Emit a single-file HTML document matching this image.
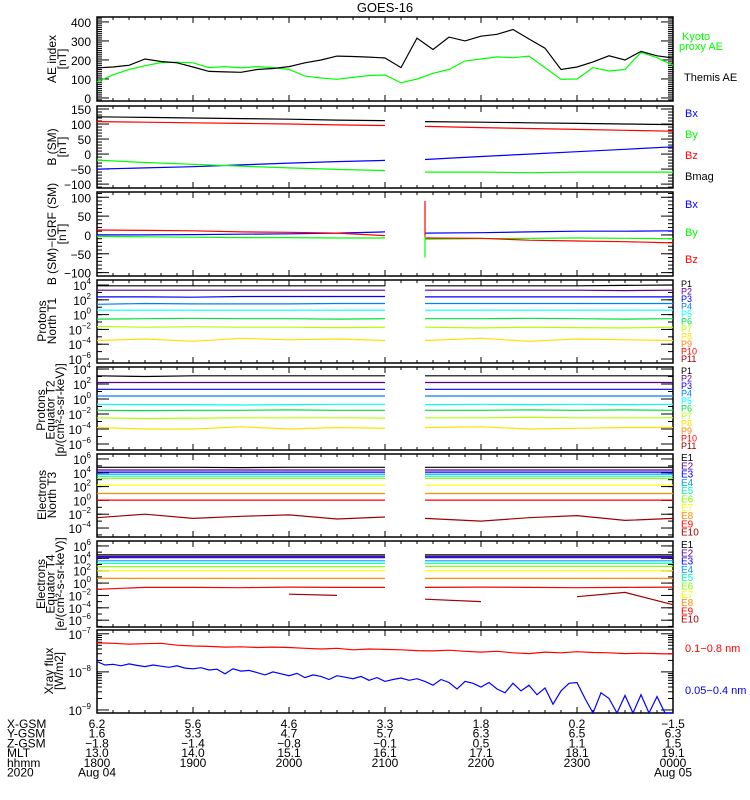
<!DOCTYPE html>
<html><head><meta charset="utf-8"><title>GOES-16</title>
<style>
html,body{margin:0;padding:0;background:#fff;}
svg{display:block;font-family:"Liberation Sans",sans-serif;}
</style></head>
<body>
<svg id="chart" width="750" height="800" viewBox="0 0 750 800" xmlns="http://www.w3.org/2000/svg">
<text x="385" y="12" text-anchor="middle" font-size="13">GOES-16</text>
</svg>
<script>
// ---------- data ----------
const aeTimes = [0,10,20,30,40,50,60,70,80,90,100,110,120,130,140,150,160,170,180,190,200,210,220,230,240,250,260,270,280,290,300,310,320,330,340,350,360];
const themisAE = [158,163,172,205,192,185,163,140,137,135,150,155,165,185,200,220,218,215,210,160,315,255,320,300,325,335,360,310,262,150,163,190,222,200,245,222,210];
const kyotoAE = [84,122,150,170,186,188,185,160,165,158,165,160,150,115,105,98,108,118,121,80,100,130,150,195,205,216,212,220,160,98,100,160,142,150,240,212,172];

const tB = [0,30,60,90,120,150,180,195,205,240,270,300,330,360];
const bmag = [124,122,120,118,116,113,111,null,108,106,104,102,100,98];
const bz = [108,106,104,102,100,97,95,null,92,88,85,82,79,76];
const bx = [-50,-46,-42,-36,-30,-25,-21,null,-18,-8,0,8,16,24];
const by = [-20,-28,-34,-40,-46,-51,-55,null,-60,-60,-62,-60,-60,-60];

const dBz = [13,12,11,8,7,5,-2,null,-8,-9,-14,-16,-18,-21];
const dBx = [0,0,1,2,3,5,8,null,5,6,8,10,10,11];
const dBy = [-4,-5,-6,-7,-7,-8,-8,null,-11,-10,-9,-8,-9,-10];
const spikeTime = 205;
const spikeRed = [90,-5];
const spikeGreen = [-60,-5];

const p1N = [3.9,3.9,3.9,3.9,3.9,3.9,3.9,null,3.9,3.9,3.9,3.9,3.95,4.0];
const p2N = [3.3,3.3,3.3,3.3,3.3,3.3,3.3,null,3.3,3.3,3.3,3.3,3.25,3.3];
const p3N = [2.4,2.4,2.35,2.45,2.45,2.45,2.45,null,2.4,2.4,2.4,2.4,2.4,2.4];
const p4N = [1.4,1.5,1.45,1.45,1.45,1.5,1.5,null,1.5,1.5,1.5,1.5,1.5,1.5];
const p5N = [0.6,0.6,0.6,0.6,0.6,0.6,0.6,null,0.6,0.6,0.6,0.6,0.6,0.6];
const p6N = [-0.6,-0.55,-0.5,-0.55,-0.55,-0.6,-0.55,null,-0.55,-0.55,-0.5,-0.55,-0.6,-0.55];
const p7N = [-1.6,-1.7,-1.65,-1.7,-1.7,-1.75,-1.7,null,-1.7,-1.8,-1.7,-1.75,-1.8,-1.7];
const p8N = [-3.5,-3.3,-3.6,-3.2,-3.4,-3.3,-3.5,null,-3.5,-3.2,-3.6,-3.3,-3.4,-3.5];

const p1E = [3.1,3.0,3.1,3.1,3.1,3.1,3.1,null,3.1,3.1,3.1,3.1,3.1,3.1];
const p2E = [2.2,2.2,2.2,2.2,2.2,2.2,2.2,null,2.2,2.2,2.2,2.2,2.2,2.2];
const p3E = [1.3,1.3,1.3,1.3,1.3,1.3,1.3,null,1.3,1.3,1.3,1.3,1.3,1.3];
const p4E = [0.4,0.4,0.4,0.4,0.4,0.4,0.4,null,0.4,0.4,0.4,0.4,0.4,0.4];
const p5E = [-0.7,-0.75,-0.75,-0.8,-0.75,-0.7,-0.7,null,-0.75,-0.7,-0.75,-0.7,-0.75,-0.7];
const p6E = [-1.5,-1.55,-1.5,-1.5,-1.45,-1.5,-1.5,null,-1.5,-1.5,-1.45,-1.5,-1.45,-1.5];
const p7E = [-2.5,-2.6,-2.55,-2.5,-2.5,-2.5,-2.55,null,-2.5,-2.5,-2.45,-2.5,-2.5,-2.5];
const p8E = [-3.8,-4.0,-4.0,-3.7,-4.0,-3.8,-3.9,null,-3.8,-3.7,-4.0,-3.9,-3.8,-3.8];

const e1N = [4.8,4.8,4.8,4.75,4.8,4.8,4.8,null,4.8,4.8,4.8,4.8,4.8,4.8];
const e2N = [4.4,4.4,4.4,4.4,4.4,4.4,4.4,null,4.4,4.4,4.4,4.4,4.4,4.4];
const e3N = [4.1,4.1,4.1,4.1,4.1,4.1,4.1,null,4.1,4.1,4.1,4.1,4.1,4.1];
const e4N = [3.8,3.8,3.8,3.8,3.8,3.8,3.8,null,3.8,3.8,3.8,3.8,3.8,3.8];
const e5N = [3.5,3.5,3.5,3.5,3.5,3.5,3.5,null,3.5,3.5,3.5,3.5,3.5,3.5];
const e6N = [3.2,3.2,3.2,3.2,3.2,3.2,3.2,null,3.2,3.2,3.2,3.2,3.2,3.2];
const e7N = [2.2,2.2,2.2,2.2,2.2,2.2,2.2,null,2.2,2.2,2.2,2.2,2.2,2.2];
const e8N = [1.0,1.0,1.0,1.0,1.0,1.0,1.0,null,1.0,1.0,1.0,1.0,1.0,1.0];
const e9N = [0.05,0.05,0.05,0.05,0.05,0.05,0.05,null,0.05,0.05,0.05,0.05,0.05,0.05];
const e10N = [-2.5,-2.0,-2.6,-2.3,-2.1,-2.7,-2.4,null,-2.6,-3.0,-2.5,-2.2,-2.9,-2.6];

const e1E = [4.55,4.55,4.55,4.55,4.55,4.55,4.55,null,4.55,4.55,4.55,4.55,4.55,4.55];
const e2E = [4.3,4.3,4.3,4.3,4.3,4.3,4.3,null,4.3,4.3,4.3,4.3,4.3,4.3];
const e3E = [4.1,4.1,4.1,4.1,4.1,4.1,4.1,null,4.1,4.1,4.1,4.1,4.1,4.1];
const e4E = [3.6,3.6,3.6,3.6,3.6,3.6,3.6,null,3.6,3.6,3.6,3.6,3.6,3.6];
const e5E = [3.2,3.2,3.2,3.2,3.2,3.2,3.2,null,3.2,3.2,3.2,3.2,3.2,3.2];
const e6E = [2.65,2.65,2.65,2.65,2.65,2.65,2.65,null,2.7,2.7,2.7,2.7,2.7,2.7];
const e7E = [2.0,2.0,2.0,2.0,2.0,2.0,2.0,null,2.0,2.0,2.0,2.0,2.0,2.0];
const e8E = [0.75,0.75,0.75,0.75,0.75,0.75,0.75,null,0.75,0.75,0.75,0.75,0.75,0.75];
const e9E = [-1.0,-0.7,-0.7,-0.75,-0.65,-0.7,-0.7,null,-0.7,-0.65,-0.7,-0.75,-0.7,-0.65];
const e10E = [-1.9,null,null,null,-1.8,-2.0,null,null,-2.6,-3.0,null,-2.2,-1.5,-3.5];

const xrayRedTimes = aeTimes;
const xrayRed = [-7.24,-7.25,-7.27,-7.26,-7.25,-7.30,-7.32,-7.33,-7.35,-7.34,-7.36,-7.35,-7.36,-7.38,-7.40,-7.38,-7.42,-7.40,-7.41,-7.42,-7.44,-7.45,-7.43,-7.46,-7.48,-7.46,-7.50,-7.52,-7.48,-7.50,-7.47,-7.49,-7.50,-7.52,-7.51,-7.52,-7.53];
const xrayBlue = [-7.73,-7.82,-7.80,-7.84,-7.79,-7.83,-7.86,-7.82,-7.85,-7.88,-7.84,-7.90,-7.92,
 -7.89,-7.95,-7.93,-8.05,-7.92,-7.98,-7.96,-8.02,-8.08,-8.00,-8.05,-8.10,
 -8.04,-8.15,-8.08,-8.12,-8.20,-8.10,-8.14,-8.18,-8.12,-8.22,-8.15,-8.25,
 -8.20,-8.16,-8.22,-8.18,-8.25,-8.35,-8.20,-8.28,-8.45,-8.25,-8.30,-8.40,
 -8.28,-8.45,-8.55,-8.30,-8.50,-8.35,-8.60,-8.42,-8.85,-8.50,-8.30,-8.28,
 -8.70,-9.2,-8.55,-8.70,-9.2,-8.62,-9.2,-8.60,-9.2,-8.65,-9.2,-9.2];

const ephemRows = ["X-GSM","Y-GSM","Z-GSM","MLT","hhmm","2020"];
const xGsm = ["6.2","5.6","4.6","3.3","1.8","0.2","-1.5"];
const yGsm = ["1.6","3.3","4.7","5.7","6.3","6.5","6.3"];
const zGsm = ["-1.8","-1.4","-0.8","-0.1","0.5","1.1","1.5"];
const mlt = ["13.0","14.0","15.1","16.1","17.1","18.1","19.1"];
const hhmm = ["1800","1900","2000","2100","2200","2300","0000"];
const dates = ["Aug 04","","","","","","Aug 05"];

// ---------- drawing ----------
const NS = "http://www.w3.org/2000/svg";
const svg = document.getElementById("chart");
const X0 = 97, X1 = 673, TMAX = 360;
function xs(t){ return X0 + (X1 - X0) * t / TMAX; }
function mk(tag, attrs, parent){ const e = document.createElementNS(NS, tag); for (const k in attrs) e.setAttribute(k, attrs[k]); (parent||svg).appendChild(e); return e; }

const panels = [
 {top:17,bot:101,min:-16,max:426,log:false},
 {top:106,bot:188,min:-113,max:160,log:false},
 {top:192,bot:276,min:-109,max:114,log:false},
 {top:280,bot:363,min:-6.54,max:4.68,log:true},
 {top:367,bot:450,min:-6.8,max:4.27,log:true},
 {top:454,bot:537,min:-5.3,max:6.72,log:true},
 {top:541,bot:627,min:-7.1,max:6.8,log:true},
 {top:630,bot:713,min:-9.08,max:-6.9,log:true}
];
function ys(p, v){ const P = panels[p]; return P.bot - (v - P.min) / (P.max - P.min) * (P.bot - P.top); }

function series(p, times, vals, color, name){
  const P = panels[p];
  let d = "", pen = false;
  for (let i = 0; i < vals.length; i++){
    const v = vals[i];
    if (v === null || v === undefined){ pen = false; continue; }
    let y = ys(p, v); y = Math.max(P.top, Math.min(P.bot, y));
    d += (pen ? "L" : "M") + xs(times[i]).toFixed(1) + " " + y.toFixed(1);
    pen = true;
  }
  const el = mk("path", {d:d, fill:"none", stroke:color, "stroke-width":"1.2"});
  
  
}

function frame(p, yticks, minorStep, logLabels){
  const P = panels[p];
  const g = mk("g", {});
  
  
  mk("rect", {x:X0, y:P.top, width:X1-X0, height:P.bot-P.top, fill:"none", stroke:"#000", "stroke-width":"1.5"}, g);
  for (let t = 0; t <= TMAX; t += 10){
    const L = (t % 60 === 0) ? 6 : 3;
    mk("line", {x1:xs(t), x2:xs(t), y1:P.bot, y2:P.bot-L, stroke:"#000"}, g);
    mk("line", {x1:xs(t), x2:xs(t), y1:P.top, y2:P.top+L, stroke:"#000"}, g);
  }
  if (minorStep){
    for (let v = Math.ceil(P.min/minorStep)*minorStep; v <= P.max; v += minorStep){
      const y = ys(p, v);
      mk("line", {x1:X0, x2:X0+5, y1:y, y2:y, stroke:"#000"}, g);
      mk("line", {x1:X1, x2:X1-5, y1:y, y2:y, stroke:"#000"}, g);
    }
  }
  yticks.forEach(v => {
    const y = ys(p, v);
    mk("line", {x1:X0, x2:X0+12, y1:y, y2:y, stroke:"#000"}, g);
    mk("line", {x1:X1, x2:X1-12, y1:y, y2:y, stroke:"#000"}, g);
    const tx = mk("text", {x:91, y:y+5, "text-anchor":"end", "font-size":"12"}, g);
    if (logLabels){
      tx.appendChild(document.createTextNode("10"));
      const s = mk("tspan", {dy:"-6", "font-size":"8"}, tx);
      s.textContent = String(v).replace("-", "\u2212");
    } else tx.textContent = String(v).replace("-", "\u2212");
  });
}

function ytitle(lines, cy, x0, name, step){
  const g = mk("g", {});
  
  
  lines.forEach((s, i) => {
    const x = x0 + i * (step || 10);
    const t = mk("text", {x:x, y:cy, transform:"rotate(-90 " + x + " " + cy + ")", "text-anchor":"middle", "font-size":"12"}, g);
    t.textContent = s;
  });
}
function rlabel(txt, x, y, color, name, size){
  const t = mk("text", {x:x, y:y, fill:color, "font-size":size||"11"});
  t.textContent = txt;
  
  
}

frame(0, [0,100,200,300,400], 10, false);
frame(1, [-100,-50,0,50,100,150], 10, false);
frame(2, [-100,-50,0,50,100], 10, false);
frame(3, [4,2,0,-2,-4,-6], 1, true);
frame(4, [4,2,0,-2,-4,-6], 1, true);
frame(5, [6,4,2,0,-2,-4], 1, true);
frame(6, [6,4,2,0,-2,-4,-6], 1, true);
frame(7, [-7,-8,-9], 0, true);
for (let d = -9; d < -7; d++) for (let m = 2; m <= 9; m++){
  const y = ys(7, d + Math.log10(m));
  mk("line", {x1:X0, x2:X0+5, y1:y, y2:y, stroke:"#000"});
  mk("line", {x1:X1, x2:X1-5, y1:y, y2:y, stroke:"#000"});
}

series(0, aeTimes, kyotoAE, "#00ff00", "kyoto-ae-line");
series(0, aeTimes, themisAE, "#000000", "themis-ae-line");
series(1, tB, bmag, "#000", "bmag-line");
series(1, tB, bz, "#ff0000", "bz-line");
series(1, tB, bx, "#0000ff", "bx-line");
series(1, tB, by, "#00ff00", "by-line");
series(2, tB, dBx, "#0000ff", "dbx-line");
series(2, tB, dBy, "#00ff00", "dby-line");
series(2, tB, dBz, "#ff0000", "dbz-line");
series(2, [spikeTime, spikeTime], spikeRed, "#ff0000", "dbz-spike");
series(2, [spikeTime, spikeTime], spikeGreen, "#00ff00", "dby-spike");

const pColors = ["#000000","#5a0090","#0000ff","#0080ff","#00ffff","#00e040","#b0ff00","#ffe000","#ff8000","#ff0000","#a00000"];
const eColors = ["#000000","#5a0090","#0000ff","#00a0ff","#00ffb0","#80ff00","#ffff00","#ff9000","#ff0000","#a00000"];
[p1N,p2N,p3N,p4N,p5N,p6N,p7N,p8N].forEach((a,i)=>series(3, tB, a, pColors[i], "proton-north-p" + (i+1)));
[p1E,p2E,p3E,p4E,p5E,p6E,p7E,p8E].forEach((a,i)=>series(4, tB, a, pColors[i], "proton-equator-p" + (i+1)));
[e1N,e2N,e3N,e4N,e5N,e6N,e7N,e8N,e9N,e10N].forEach((a,i)=>series(5, tB, a, eColors[i], "electron-north-e" + (i+1)));
[e1E,e2E,e3E,e4E,e5E,e6E,e7E,e8E,e9E,e10E].forEach((a,i)=>series(6, tB, a, eColors[i], "electron-equator-e" + (i+1)));
series(7, xrayRedTimes, xrayRed, "#ff0000", "xray-long-line");
series(7, xrayBlue.map((v,i)=>i*5), xrayBlue, "#0000ff", "xray-short-line");

ytitle(["AE index","[nT]"], 59, 56, "ae-axis-title");
ytitle(["B (SM)","[nT]"], 147, 56, "b-sm-axis-title");
ytitle(["B (SM)\u2212IGRF (SM)","[nT]"], 234, 56, "b-igrf-axis-title");
ytitle(["Protons","North T1"], 321, 46, "protons-north-axis-title");
ytitle(["Protons","Equator T2","[p/(cm\u00B2-s-sr-keV)]"], 410, 45, "protons-equator-axis-title", 9.5);
ytitle(["Electrons","North T3"], 495, 46, "electrons-north-axis-title");
ytitle(["Electrons","Equator T4","[e/(cm\u00B2-s-sr-keV)]"], 584, 45, "electrons-equator-axis-title", 9.5);
ytitle(["Xray flux","[W/m2]"], 671, 53, "xray-axis-title");

rlabel("Kyoto", 682, 40, "#00ff00", "legend-kyoto");
rlabel("proxy AE", 679, 50, "#00ff00", "legend-proxy-ae");
rlabel("Themis AE", 684, 81, "#000", "legend-themis-ae");
rlabel("Bx", 685, 117, "#0000ff", "legend-bx");
rlabel("By", 685, 138, "#00ff00", "legend-by");
rlabel("Bz", 685, 159, "#ff0000", "legend-bz");
rlabel("Bmag", 685, 180, "#000", "legend-bmag");
rlabel("Bx", 685, 208, "#0000ff", "legend-dbx");
rlabel("By", 685, 236, "#00ff00", "legend-dby");
rlabel("Bz", 685, 263, "#ff0000", "legend-dbz");
for (let i = 0; i < 11; i++){
  rlabel("P" + (i+1), 681, 287 + i*7.5, pColors[i], "legend-north-p" + (i+1), "9");
  rlabel("P" + (i+1), 681, 374 + i*7.5, pColors[i], "legend-equator-p" + (i+1), "9");
}
for (let i = 0; i < 10; i++){
  rlabel("E" + (i+1), 681, 461 + i*8.3, eColors[i], "legend-north-e" + (i+1), "10");
  rlabel("E" + (i+1), 681, 548 + i*8.3, eColors[i], "legend-equator-e" + (i+1), "10");
}
rlabel("0.1\u22120.8 nm", 685, 652, "#ff0000", "legend-xray-long");
rlabel("0.05\u22120.4 nm", 685, 694, "#0000ff", "legend-xray-short");

const rowsVals = [xGsm, yGsm, zGsm, mlt, hhmm, dates];
ephemRows.forEach((r, i) => {
  const y = 728 + i * 9.7;
  rlabel(r, 7, y, "#000", "ephem-label-" + r.toLowerCase(), "12");
  rowsVals[i].forEach((v, j) => {
    if (!v) return;
    const t = mk("text", {x:xs(j*60), y:y, "text-anchor":"middle", "font-size":"12"});
    t.textContent = v.replace("-", "\u2212");
    
    
  });
});
</script>
</body></html>
